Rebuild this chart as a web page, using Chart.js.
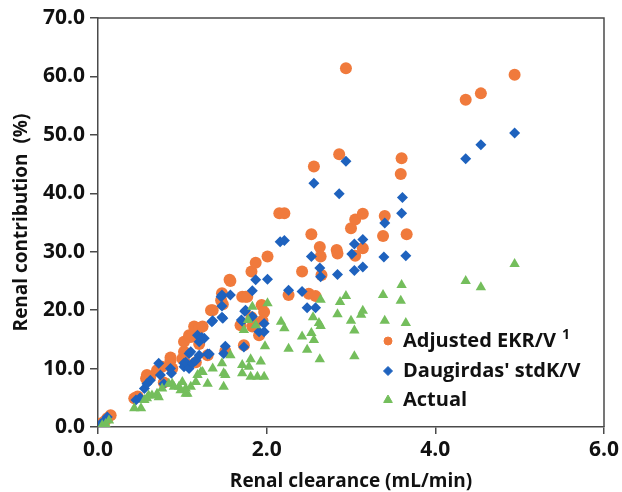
<!DOCTYPE html>
<html>
<head>
<meta charset="utf-8">
<title>Renal contribution vs renal clearance</title>
<script src="https://cdn.jsdelivr.net/npm/chart.js@4.4.1/dist/chart.umd.min.js"></script>
<style>
    html, body { margin: 0; padding: 0; background: #ffffff; }
    #wrap { width: 622px; height: 492px; position: relative; }
</style>
</head>
<body>
<div id="wrap"><canvas id="scatterChart" width="622" height="492"></canvas></div>
<script>
// [renal clearance (mL/min), renal contribution (%)]
var adjustedPoints = [
    [0.03, 0.6], [0.08, 1.0], [0.11, 1.5], [0.15, 2.0],
    [0.43, 4.9], [0.47, 5.2], [0.57, 8.3], [0.58, 8.9], [0.62, 8.6],
    [0.70, 9.7], [0.76, 10.3], [0.78, 7.6], [0.86, 11.4], [0.86, 11.9], [0.88, 10.0],
    [1.00, 11.7], [1.02, 12.9], [1.04, 10.9], [1.02, 14.6], [1.08, 15.7], [1.10, 15.4],
    [1.12, 15.6], [1.16, 11.1], [1.14, 17.2], [1.20, 16.9], [1.24, 17.2], [1.20, 14.2],
    [1.30, 12.3], [1.34, 20.0], [1.36, 20.0], [1.46, 21.7], [1.47, 22.9], [1.48, 21.0],
    [1.51, 13.0], [1.56, 25.2], [1.57, 25.0], [1.69, 17.4], [1.71, 22.3], [1.75, 22.3],
    [1.73, 14.0], [1.77, 22.3], [1.82, 26.6], [1.82, 18.8], [1.83, 17.2], [1.85, 17.7],
    [1.87, 28.1], [1.91, 15.7], [1.94, 20.9], [1.95, 18.2], [1.97, 19.7], [2.01, 29.2],
    [2.15, 36.6], [2.21, 36.6], [2.26, 22.6], [2.42, 26.6], [2.50, 22.8], [2.53, 33.0],
    [2.56, 44.6], [2.58, 22.4], [2.63, 30.8], [2.64, 29.2], [2.65, 26.0], [2.83, 30.3],
    [2.84, 29.7], [2.86, 46.7], [2.94, 61.4], [3.00, 34.0], [3.05, 35.5], [3.05, 29.3],
    [3.14, 36.5], [3.14, 30.6], [3.38, 32.7], [3.40, 36.1], [3.59, 43.3], [3.60, 46.0],
    [3.66, 33.0], [4.36, 56.0], [4.54, 57.1], [4.94, 60.3]
];
var daugirdasPoints = [
    [0.03, 0.5], [0.07, 1.0], [0.11, 1.7], [0.45, 4.6], [0.50, 5.0],
    [0.55, 6.6], [0.58, 7.4], [0.62, 8.0], [0.72, 10.9], [0.74, 8.9], [0.78, 7.4],
    [0.86, 10.0], [0.87, 9.2], [1.02, 10.9], [1.02, 10.3], [1.04, 11.1], [1.08, 10.0],
    [1.08, 12.6], [1.10, 12.9], [1.12, 10.9], [1.16, 11.4], [1.18, 15.7], [1.20, 14.6],
    [1.23, 15.3], [1.26, 15.2], [1.20, 12.3], [1.30, 12.5], [1.32, 12.5], [1.35, 18.0],
    [1.36, 18.2], [1.46, 22.3], [1.47, 22.6], [1.47, 20.7], [1.48, 18.6], [1.47, 18.8],
    [1.57, 22.6], [1.49, 12.6], [1.51, 13.8], [1.70, 18.3], [1.71, 18.1], [1.73, 13.7],
    [1.74, 19.8], [1.75, 20.0], [1.83, 23.3], [1.83, 18.9], [1.87, 25.2], [1.91, 16.3],
    [1.97, 16.3], [1.97, 17.7], [2.01, 25.3], [2.16, 31.7], [2.21, 31.9], [2.26, 23.4],
    [2.42, 23.2], [2.48, 20.4], [2.53, 29.2], [2.56, 41.7], [2.58, 20.4], [2.63, 27.2],
    [2.64, 25.7], [2.84, 26.1], [2.86, 39.9], [2.94, 45.5], [3.01, 29.6], [3.04, 26.8],
    [3.04, 31.3], [3.14, 32.1], [3.14, 27.4], [3.39, 29.1], [3.40, 34.9], [3.60, 36.6],
    [3.61, 39.3], [3.65, 29.3], [4.36, 45.9], [4.54, 48.3], [4.94, 50.3]
];
var actualPoints = [
    [0.05, 0.3], [0.09, 0.5], [0.13, 1.1], [0.43, 3.2], [0.51, 3.2], [0.55, 4.6],
    [0.58, 4.9], [0.60, 5.4], [0.64, 5.4], [0.70, 5.7], [0.72, 5.1], [0.76, 6.6],
    [0.84, 7.4], [0.88, 7.4], [0.90, 6.9], [0.96, 6.9], [0.98, 6.3], [1.00, 7.7],
    [1.04, 6.6], [1.04, 5.7], [1.06, 5.7], [1.10, 6.9], [1.16, 7.7], [1.18, 8.9],
    [1.22, 9.4], [1.24, 9.4], [1.30, 7.4], [1.36, 10.0], [1.47, 10.9], [1.49, 9.2],
    [1.49, 6.9], [1.51, 8.9], [1.57, 12.3], [1.71, 10.6], [1.71, 9.2], [1.73, 16.6],
    [1.78, 18.3], [1.79, 10.3], [1.81, 11.6], [1.81, 8.6], [1.83, 20.6], [1.87, 17.4],
    [1.89, 8.6], [1.93, 11.2], [1.97, 8.6], [1.98, 13.8], [2.01, 21.2], [2.17, 18.0],
    [2.21, 16.9], [2.26, 13.4], [2.42, 15.5], [2.48, 13.2], [2.53, 16.1], [2.55, 18.8],
    [2.56, 14.9], [2.62, 17.8], [2.64, 17.3], [2.64, 21.8], [2.63, 11.6], [2.84, 19.3],
    [2.87, 21.4], [2.94, 22.4], [3.00, 18.2], [3.04, 16.5], [3.04, 12.1], [3.12, 19.2],
    [3.14, 19.9], [3.38, 22.6], [3.40, 18.2], [3.59, 21.6], [3.60, 24.3], [3.65, 17.8],
    [4.36, 25.0], [4.54, 23.9], [4.94, 27.9]
];

var seriesNames = ["Adjusted EKR/V", "Daugirdas' stdK/V", "Actual"];
var xTickValues = [0, 2, 4, 6];
var yTickValues = [0, 10, 20, 30, 40, 50, 60, 70];

var orange = '#F07A3C';
var blue = '#1E62BE';
var green = '#74BE5C';
var axisColor = '#4a4a4a';
var fontFamily = "'Open Sans', 'Noto Sans', sans-serif";

function toXY(points) {
    return points.map(p => ({ x: p[0], y: p[1] }));
}

// Box around the plot area (top and right edges)
var frameBox = {
    id: 'frameBox',
    afterDatasetsDraw: function (chart) {
        var a = chart.chartArea;
        var ctx = chart.ctx;
        ctx.save();
        ctx.strokeStyle = axisColor;
        ctx.lineWidth = 1.5;
        ctx.beginPath();
        ctx.moveTo(a.left, a.top);
        ctx.lineTo(a.right, a.top);
        ctx.lineTo(a.right, a.bottom);
        ctx.stroke();
        ctx.restore();
    }
};

// Legend drawn inside the plot, lower right
var insideLegend = {
    id: 'insideLegend',
    afterDraw: function (chart) {
        var ctx = chart.ctx;
        var markerX = 388;
        var textX = 403;
        var rowsY = [341, 371, 400];
        var styles = [
            { style: 'circle', r: 4, color: orange },
            { style: 'rectRot', r: 4.5, color: blue },
            { style: 'triangle', r: 5, color: green }
        ];
        ctx.save();
        for (var i = 0; i < seriesNames.length; i++) {
            ctx.fillStyle = styles[i].color;
            ctx.strokeStyle = styles[i].color;
            ctx.lineWidth = 1;
            Chart.helpers.drawPoint(ctx, { pointStyle: styles[i].style, radius: styles[i].r, borderWidth: 1 }, markerX, rowsY[i]);
            ctx.fillStyle = '#111111';
            ctx.font = 'bold 20px ' + fontFamily;
            ctx.textBaseline = 'middle';
            ctx.textAlign = 'left';
            ctx.fillText(seriesNames[i], textX, rowsY[i]);
            if (i === 0) {
                // superscript reference mark
                var w = ctx.measureText(seriesNames[i]).width;
                ctx.font = 'bold 14px ' + fontFamily;
                ctx.fillText('1', textX + w + 6, rowsY[i] - 6);
            }
        }
        ctx.restore();
    }
};

document.addEventListener("DOMContentLoaded", function () {
    var canvas = document.getElementById('scatterChart');

    var tickFont = { family: fontFamily, size: 21, weight: 'bold' };
    var titleFont = { family: fontFamily, size: 19, weight: 'bold', lineHeight: 1.1 };

    new Chart(canvas, {
        type: 'scatter',
        data: {
            datasets: [
                {
                    label: seriesNames[0],
                    data: toXY(adjustedPoints),
                    pointStyle: 'circle',
                    pointRadius: 6,
                    backgroundColor: orange,
                    borderColor: orange,
                    borderWidth: 0,
                    order: 3
                },
                {
                    label: seriesNames[1],
                    data: toXY(daugirdasPoints),
                    pointStyle: 'rectRot',
                    pointRadius: 5.5,
                    backgroundColor: blue,
                    borderColor: blue,
                    borderWidth: 0,
                    order: 2
                },
                {
                    label: seriesNames[2],
                    data: toXY(actualPoints),
                    pointStyle: 'triangle',
                    pointRadius: 6,
                    backgroundColor: green,
                    borderColor: green,
                    borderWidth: 0,
                    order: 1
                }
            ]
        },
        options: {
            responsive: false,
            animation: false,
            layout: { padding: { top: 18, right: 16, left: 0, bottom: 0 } },
            plugins: {
                legend: { display: false },
                tooltip: { enabled: false }
            },
            scales: {
                x: {
                    type: 'linear',
                    min: 0,
                    max: 6,
                    afterBuildTicks: function (axis) {
                        axis.ticks = xTickValues.map(v => ({ value: v }));
                    },
                    afterFit: function (axis) {
                        axis.height = 65;
                    },
                    ticks: {
                        color: '#111111',
                        font: tickFont,
                        padding: 3,
                        maxRotation: 0,
                        callback: function (value) { return Number(value).toFixed(1); }
                    },
                    grid: {
                        drawOnChartArea: false,
                        drawTicks: true,
                        tickLength: 7,
                        color: axisColor,
                        lineWidth: 1.5
                    },
                    border: { color: axisColor, width: 1.5 },
                    title: {
                        display: true,
                        text: 'Renal clearance (mL/min)',
                        color: '#111111',
                        font: titleFont,
                        padding: { top: 0, bottom: 0 }
                    }
                },
                y: {
                    type: 'linear',
                    min: 0,
                    max: 70,
                    afterBuildTicks: function (axis) {
                        axis.ticks = yTickValues.map(v => ({ value: v }));
                    },
                    afterFit: function (axis) {
                        axis.width = 98;
                    },
                    ticks: {
                        color: '#111111',
                        font: tickFont,
                        padding: 5,
                        callback: function (value) { return Number(value).toFixed(1); }
                    },
                    grid: {
                        drawOnChartArea: false,
                        drawTicks: true,
                        tickLength: 8,
                        color: axisColor,
                        lineWidth: 1.5
                    },
                    border: { color: axisColor, width: 1.5 },
                    title: {
                        display: true,
                        text: 'Renal contribution  (%)',
                        color: '#111111',
                        font: titleFont,
                        padding: { top: 11, bottom: 0 }
                    }
                }
            }
        },
        plugins: [frameBox, insideLegend]
    });
});
</script>
</body>
</html>
